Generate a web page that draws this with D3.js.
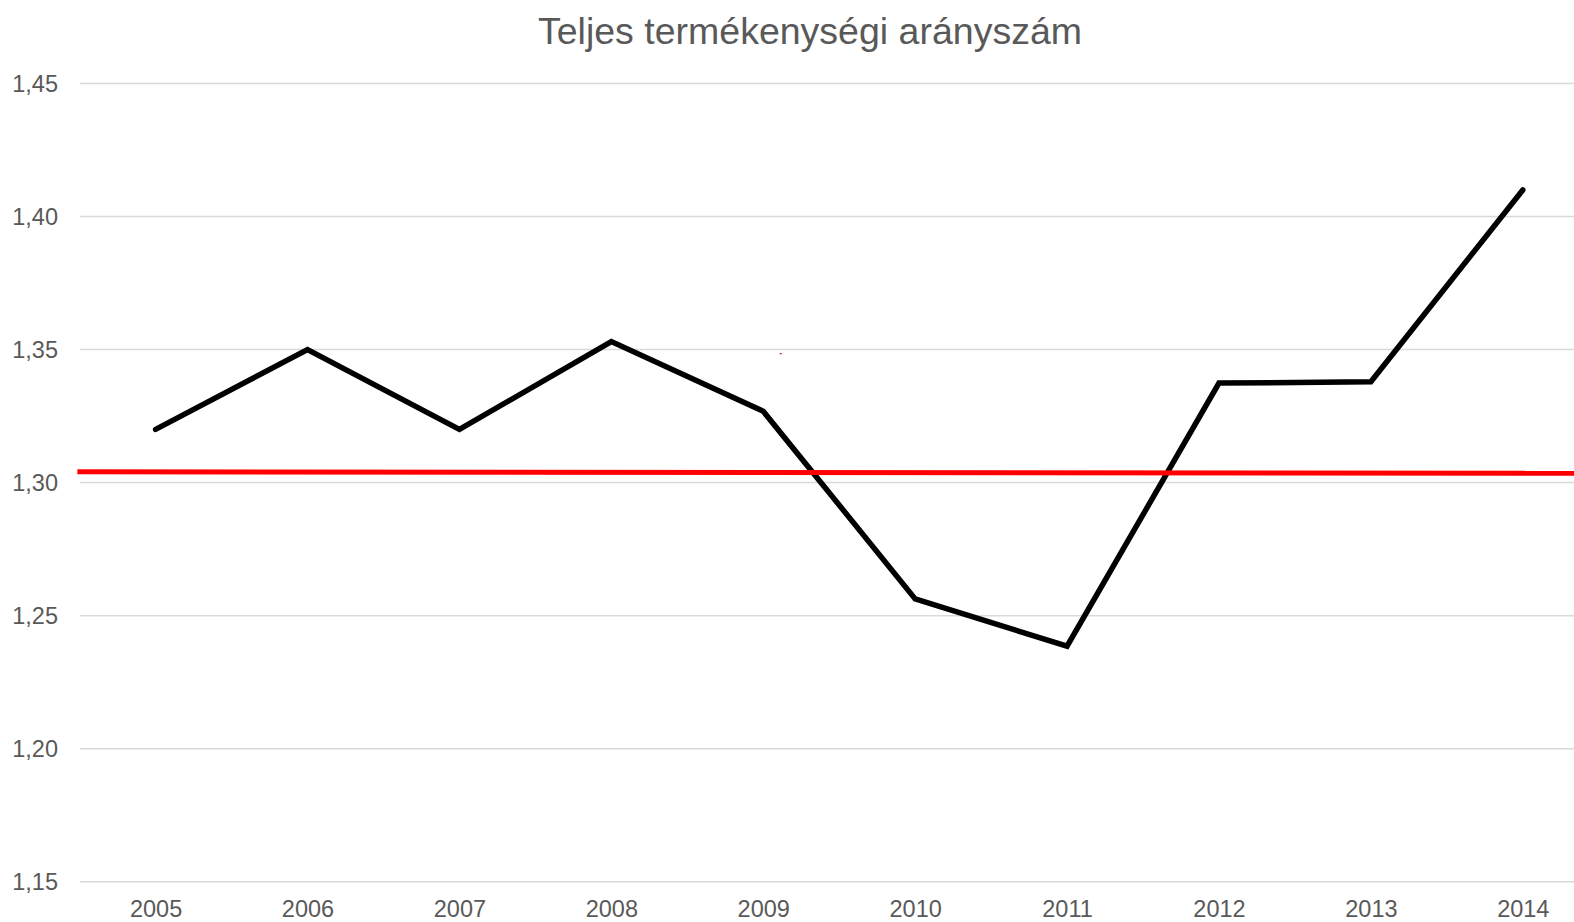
<!DOCTYPE html>
<meta charset="utf-8">
<style>
  body { margin: 0; background: #fff; }
  text { font-family: "Liberation Sans", Arial, sans-serif; fill: #595959; }
</style>
<script src="https://d3js.org/d3.v7.min.js"></script>
<div id="chart"></div>
<script>

// data
var years = [2005, 2006, 2007, 2008, 2009, 2010, 2011, 2012, 2013, 2014];
var tfr = [1.32, 1.35, 1.32, 1.353, 1.3268, 1.2563, 1.2385, 1.3374, 1.3379, 1.41];
var yTicks = [1.15, 1.20, 1.25, 1.30, 1.35, 1.40, 1.45];
// red reference line (ends run past the first / last year)
var refYears = [2004.485, 2014.35];
var refValues = [1.3041, 1.3035];
// stray red speck in the original
var speckYear = [2009.115];
var speckValue = [1.3485];
var title = "Teljes termékenységi arányszám";

var width = 1574, height = 922;

var svg = d3.select("#chart")
  .append("svg")
    .attr("width", width)
    .attr("height", height);

var x = d3.scaleLinear()
  .domain([2005, 2014])
  .range([155.6, 1522.8]);

var y = d3.scaleLinear()
  .domain([1.15, 1.45])
  .range([881.7, 83.5]);

// grid lines
svg.append("g")
  .selectAll("line")
  .data(yTicks)
  .enter()
  .append("line")
    .attr("x1", 80)
    .attr("x2", width)
    .attr("y1", function(d) { return y(d); })
    .attr("y2", function(d) { return y(d); })
    .attr("stroke", "#d9d9d9")
    .attr("stroke-width", 1.5);

// Y axis labels
var yAxis = d3.axisLeft(y)
  .tickValues(yTicks)
  .tickSize(0)
  .tickPadding(0)
  .tickFormat(function(d) { return d3.format(".2f")(d).replace(".", ","); });
var gy = svg.append("g")
  .attr("transform", "translate(58,0)")
  .call(yAxis);
gy.select(".domain").remove();
gy.selectAll("text")
  .attr("font-size", "23.5px")
  .attr("font-family", null)
  .style("fill", "#595959");

// X axis labels
var xAxis = d3.axisBottom(x)
  .tickValues(years)
  .tickSize(0)
  .tickPadding(0)
  .tickFormat(d3.format("d"));
var gx = svg.append("g")
  .attr("transform", "translate(0,900)")
  .call(xAxis);
gx.select(".domain").remove();
gx.selectAll("text")
  .attr("dy", "0.72em")
  .attr("font-size", "23.5px")
  .attr("font-family", null)
  .style("fill", "#595959");

// main series
var line = d3.line()
  .x(function(d, i) { return x(years[i]); })
  .y(function(d) { return y(d); });

svg.append("path")
  .datum(tfr)
  .attr("d", line)
  .attr("fill", "none")
  .attr("stroke", "#000")
  .attr("stroke-width", 5.5)
  .attr("stroke-linejoin", "miter")
  .attr("stroke-linecap", "round");

// red line
svg.append("path")
  .datum(refValues)
  .attr("d", d3.line()
    .x(function(d, i) { return x(refYears[i]); })
    .y(function(d) { return y(d); }))
  .attr("fill", "none")
  .attr("stroke", "#ff0000")
  .attr("stroke-width", 5);

svg.selectAll("rect.speck")
  .data(speckValue)
  .enter()
  .append("rect")
    .attr("class", "speck")
    .attr("x", function(d, i) { return x(speckYear[i]) - 1; })
    .attr("y", function(d) { return y(d) - 0.5; })
    .attr("width", 2)
    .attr("height", 1.2)
    .attr("fill", "#c0104a");

// title
svg.append("text")
  .attr("x", 810)
  .attr("y", 44)
  .attr("text-anchor", "middle")
  .attr("font-size", "37.5px")
  .text(title);

</script>
